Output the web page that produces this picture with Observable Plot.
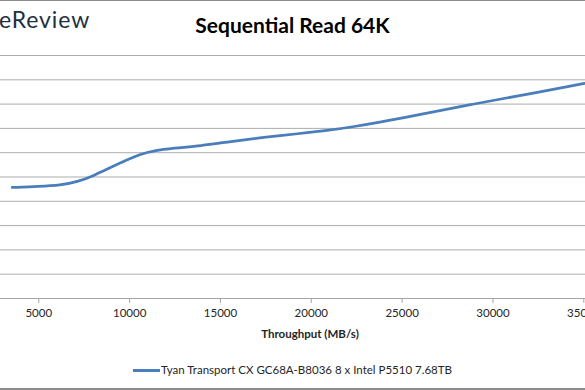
<!DOCTYPE html>
<html><head><meta charset="utf-8">
<script src="https://cdn.jsdelivr.net/npm/d3@7"></script>
<script src="https://cdn.jsdelivr.net/npm/@observablehq/plot@0.6"></script>
<style>
html,body{margin:0;padding:0;background:#fff;overflow:hidden}
#chart{position:relative;width:585px;height:390px;overflow:hidden;font-family:Lato,sans-serif;background:#fff}
.abs{position:absolute;white-space:nowrap;line-height:1}
</style></head>
<body><div id="chart"></div>
<script>
// Data
const throughput = [3536, 5000, 6195, 7131, 8012, 8948, 9883, 10599, 11314, 12415, 13902, 15553, 17369, 19241, 21058, 22324, 23811, 25077, 26949, 28765, 30582, 32454, 34271, 35097];
const latency = [0.457, 0.461, 0.466, 0.480, 0.505, 0.539, 0.571, 0.594, 0.608, 0.619, 0.628, 0.646, 0.663, 0.678, 0.693, 0.707, 0.726, 0.744, 0.771, 0.798, 0.823, 0.848, 0.874, 0.886];
const xTicks = [5000, 10000, 15000, 20000, 25000, 30000, 35000];
const yGrid = [0.1, 0.2, 0.3, 0.4, 0.5, 0.6, 0.7, 0.8, 0.9, 1.0];
const seriesName = "Tyan Transport CX GC68A-B8036 8 x Intel P5510 7.68TB";
const chartTitle = "Sequential Read 64K";
const xLabel = "Throughput (MB/s)";
const logoText = "eReview";

const data = throughput.map((t, i) => ({t, lat: latency[i]}));
const blue = "#4a7ebb";

const chart = document.getElementById("chart");
const plot = Plot.plot({
  width: 585, height: 390,
  marginLeft: 0, marginRight: 0, marginTop: 55, marginBottom: 92,
  style: {fontFamily: "Lato, sans-serif", fontSize: "11.5px", color: "#262626", background: "transparent", overflow: "hidden"},
  x: {domain: [2892, 35094]},
  y: {domain: [0, 1], axis: null},
  marks: [
    Plot.ruleY(yGrid, {stroke: "#adadad", strokeWidth: 1}),
    Plot.ruleY([0], {stroke: "#a6a6a6", strokeWidth: 1}),
    Plot.axisX({ticks: xTicks, tickSize: 5, tickPadding: 5, tickFormat: d => String(d), label: null, stroke: "#a6a6a6", fill: "#262626"}),
    Plot.line(data, {x: "t", y: "lat", stroke: blue, strokeWidth: 2.75, curve: "basis"})
  ]
});
plot.style.position = "absolute";
plot.style.left = "0px";
plot.style.top = "0px";
chart.appendChild(plot);

function add(text, css) {
  const d = document.createElement("div");
  d.className = "abs";
  d.textContent = text;
  Object.assign(d.style, css);
  chart.appendChild(d);
  return d;
}
function bar(css) {
  const d = document.createElement("div");
  Object.assign(d.style, {position: "absolute"}, css);
  chart.appendChild(d);
  return d;
}
// frame lines
bar({left: "0px", top: "0px", width: "585px", height: "1px", background: "#8c8c8c"});
bar({left: "0px", top: "388px", width: "585px", height: "1.5px", background: "#8c8c8c"});

add(logoText, {left: "-1px", top: "8px", fontSize: "23px", color: "#1f3040", fontFamily: "Lato, sans-serif", letterSpacing: "0.9px"});
add(chartTitle, {left: "0px", width: "585px", textAlign: "center", top: "14px", fontSize: "21px", fontWeight: "bold", color: "#000"});
add(xLabel, {left: "0px", width: "620px", textAlign: "center", top: "328px", fontSize: "11.5px", fontWeight: "bold", color: "#262626"});
// legend
bar({left: "133px", top: "368.5px", width: "27px", height: "3px", background: blue});
add(seriesName, {left: "161px", top: "364px", fontSize: "11.5px", color: "#262626"});
</script>
</body></html>
